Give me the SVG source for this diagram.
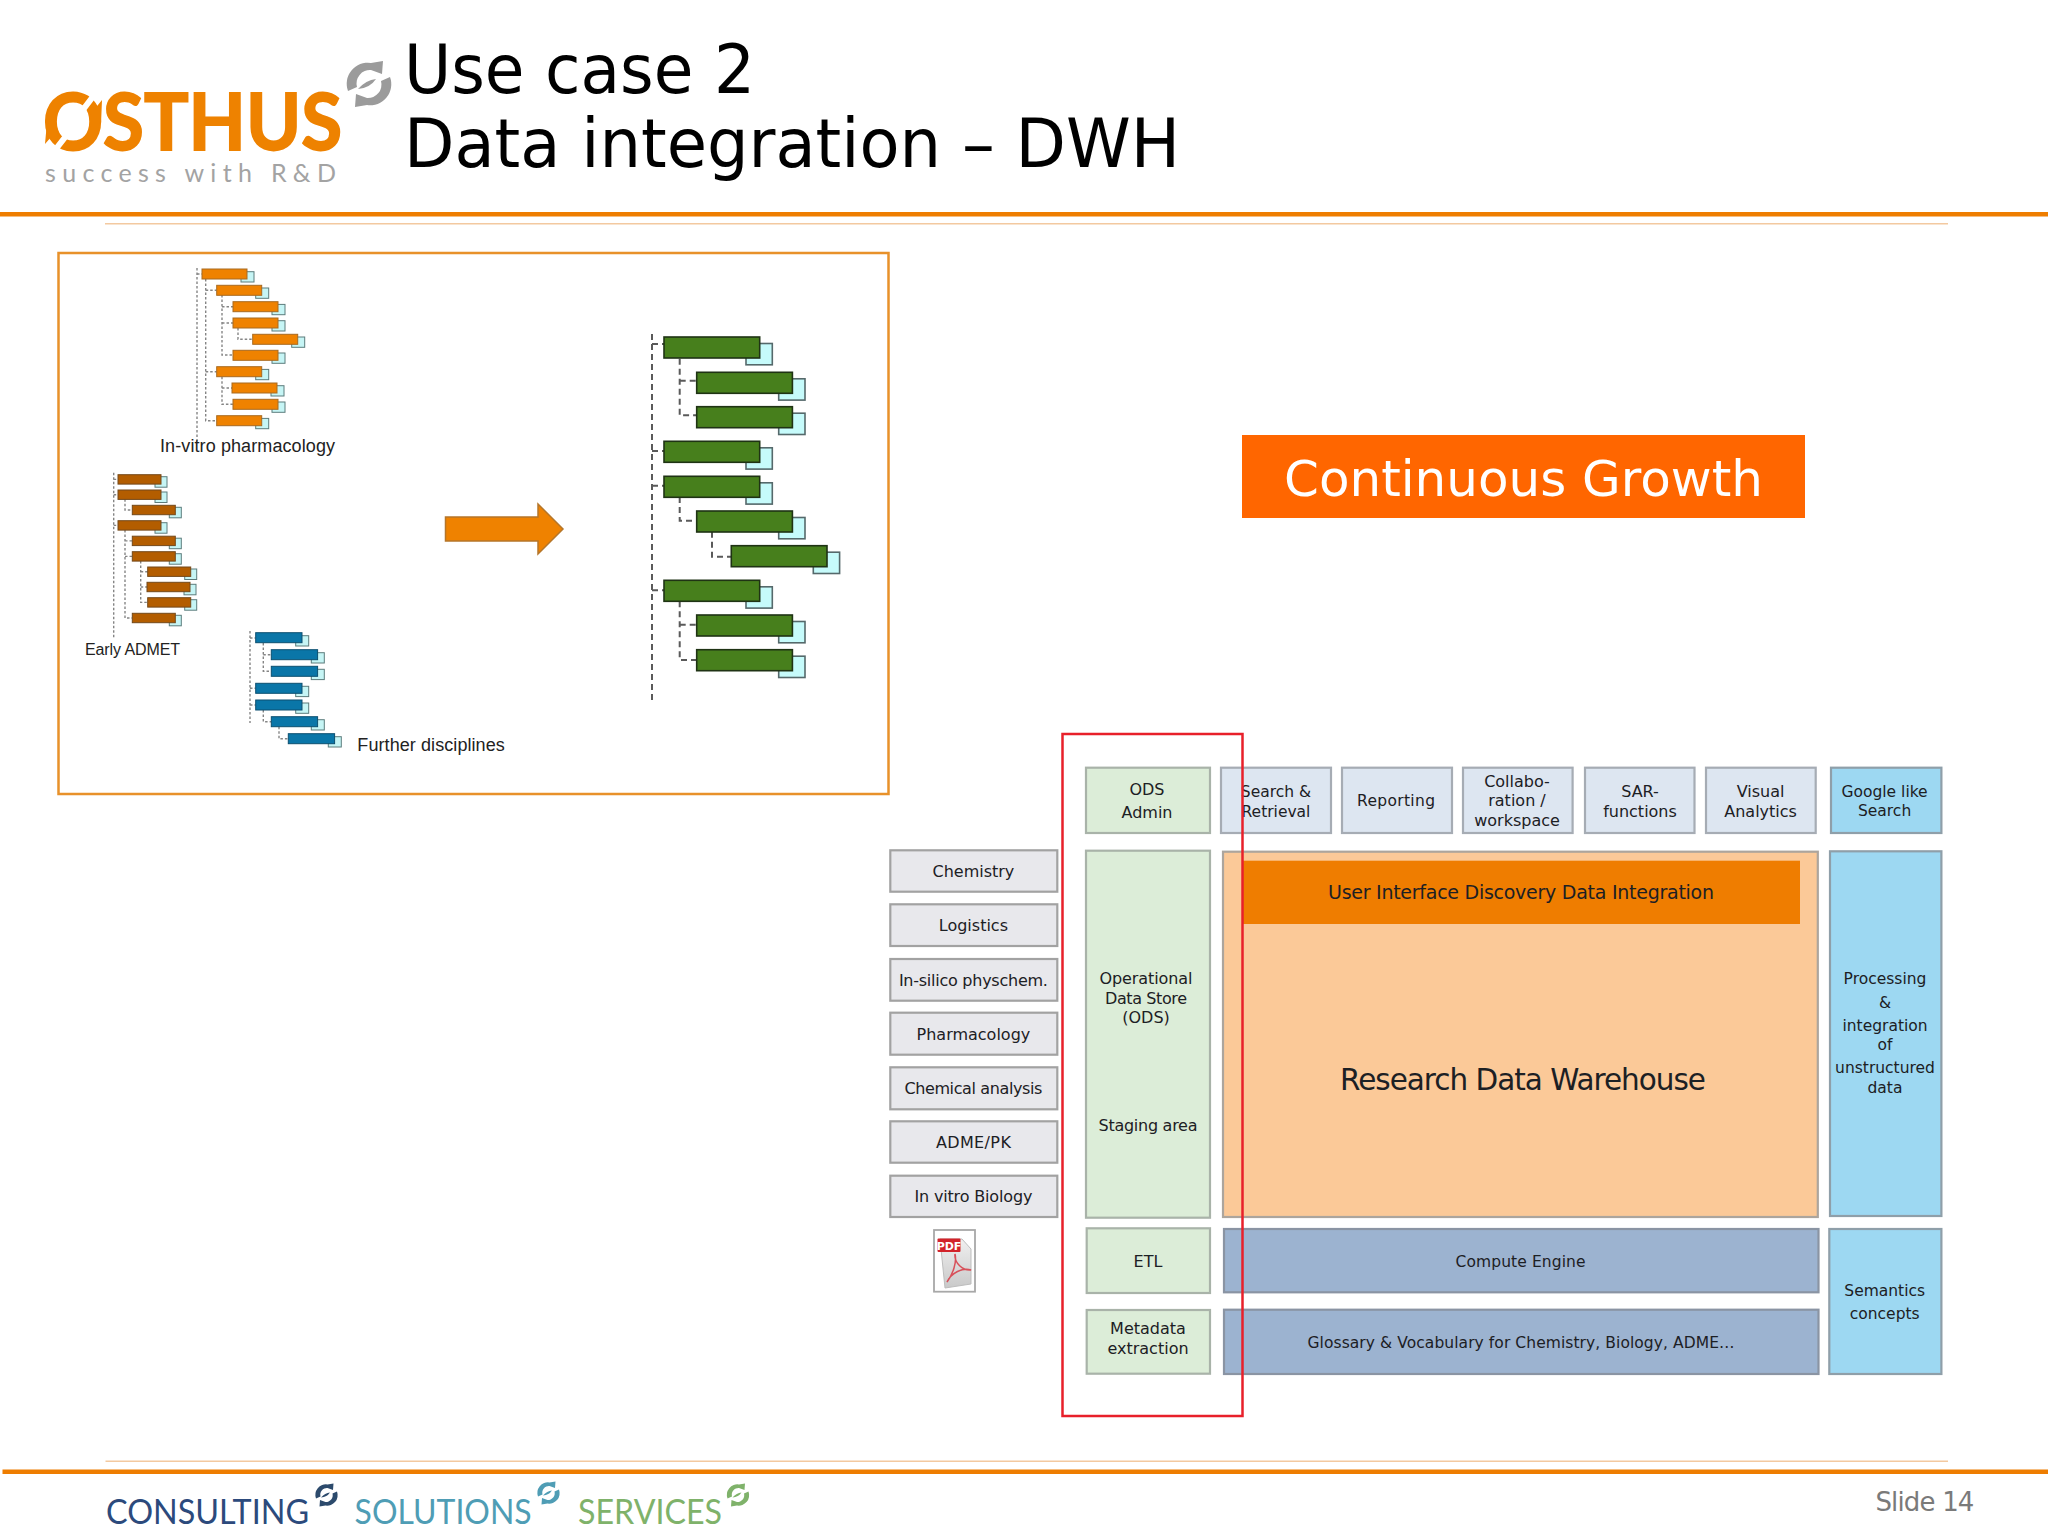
<svg xmlns="http://www.w3.org/2000/svg" xmlns:xlink="http://www.w3.org/1999/xlink" width="2048" height="1536" viewBox="0 0 2048 1536">
<style>
text{font-family:"DejaVu Sans","Liberation Sans",sans-serif;fill:#1c2024;text-anchor:middle}
.t16{font-size:16px}
.t15{font-size:15.5px}
.arial{font-family:"Liberation Sans",Arial,sans-serif;text-anchor:start;fill:#222}
.grey{fill:#e8e8ec;stroke:#a2a2a2;stroke-width:2.2}
.green{fill:#dcedd8;stroke:#a9b3a9;stroke-width:2.2}
.pale{fill:#dde6f1;stroke:#a6acb4;stroke-width:2.2}
.sky{fill:#9dd8f2;stroke:#8f9fa9;stroke-width:2.2}
.slate{fill:#9cb3d0;stroke:#8a94a3;stroke-width:2.2}
.shadow{fill:#c6f5f5;stroke:#5c7c7c;stroke-width:1}
.shadowg{fill:#c6fbfb;stroke:#55696b;stroke-width:1.6}
.ro{fill:#ef8200;stroke:#a86a20;stroke-width:1}
.rb{fill:#b35d00;stroke:#74491a;stroke-width:1}
.rc{fill:#0a76a8;stroke:#0c4f70;stroke-width:1}
.rg{fill:#477f1c;stroke:#1f3314;stroke-width:1.6}
.dot{fill:none;stroke:#858585;stroke-width:1.4;stroke-dasharray:2.5 2}
.dash{fill:none;stroke:#5a5a5a;stroke-width:2;stroke-dasharray:6 4}
</style>
<defs>
<g id="row-o"><rect class="shadow" x="39" y="2.7" width="13" height="10.3"/><rect class="ro" width="45" height="10"/></g>
<g id="row-b"><rect class="shadow" x="37" y="2" width="12" height="10.5"/><rect class="rb" width="43" height="9.4"/></g>
<g id="row-c"><rect class="shadow" x="40" y="3" width="13" height="10.3"/><rect class="rc" width="46.3" height="10"/></g>
<g id="row-g"><rect class="shadowg" x="82" y="6.5" width="26.3" height="21.3"/><rect class="rg" width="95.700" height="21"/></g>
<g id="sync">
<path d="M-21 7A21 21 0 0 1 2-21L14-23 13-10 2-14A13.500 13.500 0 0 0-12 3Z"/>
<path d="M21-7A21 21 0 0 1-2 21L-14 23-13 10-2 14A13.500 13.500 0 0 0 12-3Z"/>
<path d="M-11 5Q-3-4 7-5Q1 4-11 5Z"/>
</g>
<linearGradient id="pdfpage" x1="0" y1="0" x2="0" y2="1"><stop offset="0" stop-color="#f0f0f0"/><stop offset="1" stop-color="#c9c9c9"/></linearGradient>
</defs>
<rect width="2048" height="1536" fill="#fff"/>

<g id="header">
<g id="logo">
<text x="43" y="150" font-size="79" font-weight="700" textLength="299" lengthAdjust="spacingAndGlyphs" style="fill:#ee8200;stroke:#ee8200;stroke-width:1.800;text-anchor:start;font-family:'Lato','Liberation Sans',sans-serif">OSTHUS</text>
<path d="M52 154L66 136M82 111L98 90" stroke="#fff" stroke-width="6" fill="none"/>
<path d="M45 144L47 122 58 129ZM102 100L101 124 89 116Z" fill="#ee8200"/>
<text x="45" y="182" font-size="25" textLength="291" style="fill:#a3a3a3;text-anchor:start;font-family:'Lato','Liberation Sans',sans-serif">success with R&amp;D</text>
<use href="#sync" transform="translate(369 84)" fill="#9b9b9b"/>
</g>
<text x="404" y="93" font-size="68" textLength="351" lengthAdjust="spacingAndGlyphs" style="fill:#000;text-anchor:start">Use case 2</text>
<text x="404" y="167" font-size="68" textLength="776" lengthAdjust="spacingAndGlyphs" style="fill:#000;text-anchor:start">Data integration – DWH</text>
<rect x="0" y="212" width="2048" height="4.500" fill="#ee7d00"/>
<rect x="105" y="223" width="1843" height="1.500" fill="#f3c9a0"/>
</g>

<rect id="source-frame" x="58.500" y="253" width="830" height="541" fill="#fff" stroke="#e8912a" stroke-width="2.500"/>

<g id="connectors">
<path class="dot" d="M197 268V442M197 274H202M205.700 279V420.700H216.700M205.700 290.300H216.700M222 295V355H233M222 306.700H233M222 323H233M238 328V339.300H252.700M205.700 371.700H216.700M222 376.700V404.300H233M222 388H232"/>
<path class="dot" d="M113.700 472.700V638M113.700 479.400H118M113.700 494.700H118M113.700 525.400H118M125 499.300V510H132.300M125 530V618H132.300M125 540.900H132.300M125 556.400H132.300M140.700 561V602.400H147.700M140.700 571.700H147.700M140.700 587H147"/>
<path class="dot" d="M250 631V723M250 638H255.700M250 688.300H255.700M250 705H255.700M263.300 643V671.300H271.300M263.300 654.700H271.300M263.300 710V721.700H271.300M279 726.700V738.800H288.300"/>
<path class="dash" d="M652 334V704M652 344H664M652 451H664M652 485.700H664M652 590.300H664M679.700 358.700V415.300H696.700M679.700 380.700H696.700M679.700 497V520.700H696.700M679.700 601.300V660H696.700M679.700 624.700H696.700M712 531.700V556.700H731.300"/>
</g>

<g id="tree-invitro">
<use href="#row-o" x="202" y="269"/><use href="#row-o" x="216.700" y="285.300"/><use href="#row-o" x="233" y="301.700"/><use href="#row-o" x="233" y="318"/><use href="#row-o" x="252.700" y="334.300"/><use href="#row-o" x="233" y="350.300"/><use href="#row-o" x="216.700" y="366.700"/><use href="#row-o" x="232" y="383"/><use href="#row-o" x="233" y="399.300"/><use href="#row-o" x="216.700" y="415.700"/>
<text class="arial" x="160" y="452" font-size="18" textLength="175">In-vitro pharmacology</text>
</g>
<g id="tree-admet">
<use href="#row-b" x="118" y="474.700"/><use href="#row-b" x="118" y="490"/><use href="#row-b" x="132.300" y="505.300"/><use href="#row-b" x="118" y="520.700"/><use href="#row-b" x="132.300" y="536.200"/><use href="#row-b" x="132.300" y="551.700"/><use href="#row-b" x="147.700" y="567"/><use href="#row-b" x="147" y="582.300"/><use href="#row-b" x="147.700" y="597.700"/><use href="#row-b" x="132.300" y="613.300"/>
<text class="arial" x="85" y="655" font-size="16" textLength="95">Early ADMET</text>
</g>
<g id="tree-further">
<use href="#row-c" x="255.700" y="632.700"/><use href="#row-c" x="271.300" y="649.700"/><use href="#row-c" x="271.300" y="666.300"/><use href="#row-c" x="255.700" y="683.300"/><use href="#row-c" x="255.700" y="700"/><use href="#row-c" x="271.300" y="716.700"/><use href="#row-c" x="288.300" y="733.700"/>
<text class="arial" x="357.300" y="751" font-size="18" textLength="147.500">Further disciplines</text>
</g>
<g id="merge-arrow"><path d="M445.500 517H538V504L563 529 538 554V541H445.500Z" fill="#ef8200" stroke="#b5762a" stroke-width="1.500"/></g>
<g id="tree-merged">
<use href="#row-g" x="664" y="337"/><use href="#row-g" x="696.700" y="372.300"/><use href="#row-g" x="696.700" y="406.700"/><use href="#row-g" x="664" y="441.300"/><use href="#row-g" x="664" y="476.300"/><use href="#row-g" x="696.700" y="511"/><use href="#row-g" x="731.300" y="545.700"/><use href="#row-g" x="664" y="580.300"/><use href="#row-g" x="696.700" y="615"/><use href="#row-g" x="696.700" y="649.700"/>
</g>

<g id="continuous-growth"><rect x="1242" y="435" width="563" height="83" fill="#ff6600"/><text x="1523.500" y="496" font-size="50" textLength="479" lengthAdjust="spacingAndGlyphs" style="fill:#fff">Continuous Growth</text></g>

<g id="chemistry"><rect class="grey" x="890.300" y="850.300" width="167" height="41.400"/><text class="t16" x="973.400" y="876.700">Chemistry</text></g>
<g id="logistics"><rect class="grey" x="890.300" y="904.300" width="167" height="41.700"/><text class="t16" x="973.400" y="931">Logistics</text></g>
<g id="insilico"><rect class="grey" x="890.300" y="959" width="167" height="41.700"/><text class="t16" x="973.400" y="985.700" textLength="149">In-silico physchem.</text></g>
<g id="pharmacology"><rect class="grey" x="890.300" y="1012.700" width="167" height="42"/><text class="t16" x="973.400" y="1040">Pharmacology</text></g>
<g id="chemical-analysis"><rect class="grey" x="890.300" y="1067.300" width="167" height="42"/><text class="t16" x="973.400" y="1094.300" textLength="138">Chemical analysis</text></g>
<g id="adme-pk"><rect class="grey" x="890.300" y="1121.300" width="167" height="41.400"/><text class="t16" x="973.400" y="1148" textLength="75">ADME/PK</text></g>
<g id="invitro-biology"><rect class="grey" x="890.300" y="1175.700" width="167" height="41.300"/><text class="t16" x="973.400" y="1202.300" textLength="118">In vitro Biology</text></g>
<g id="pdf-icon">
<rect x="934" y="1230" width="41" height="61.700" fill="#fff" stroke="#a8a8a8" stroke-width="1.800"/>
<path d="M940 1239H962L971 1249V1284L945 1288Z" fill="url(#pdfpage)" stroke="#bdbdbd"/>
<rect x="937.500" y="1238.500" width="23" height="13.500" rx="1" fill="#d2232a"/>
<text x="949" y="1249.500" font-size="11" font-weight="700" style="fill:#fff">PDF</text>
<path d="M947 1282C953 1274 957 1262 955 1254C954 1263 963 1271 971 1270C963 1267 951 1273 947 1282Z" fill="none" stroke="#d8505a" stroke-width="1.500"/>
</g>

<g id="ods-admin"><rect class="green" x="1086" y="767.700" width="124" height="65.300"/><text class="t16" x="1147" y="794.700">ODS</text><text class="t16" x="1147" y="817.700">Admin</text></g>
<g id="search-retrieval"><rect class="pale" x="1221" y="767.700" width="110" height="65.300"/><text class="t15" x="1276" y="797.300">Search &amp;</text><text class="t15" x="1276" y="816.700">Retrieval</text></g>
<g id="reporting"><rect class="pale" x="1342" y="767.700" width="110" height="65.300"/><text class="t15" x="1396" y="806" textLength="78">Reporting</text></g>
<g id="collaboration"><rect class="pale" x="1463" y="767.700" width="109.600" height="65.300"/><text class="t16" x="1517" y="786.700">Collabo-</text><text class="t16" x="1517" y="806">ration /</text><text class="t16" x="1517" y="825.700">workspace</text></g>
<g id="sar-functions"><rect class="pale" x="1585" y="767.700" width="109.500" height="65.300"/><text class="t16" x="1640" y="797.300">SAR-</text><text class="t16" x="1640" y="816.700">functions</text></g>
<g id="visual-analytics"><rect class="pale" x="1706" y="767.700" width="109.700" height="65.300"/><text class="t16" x="1760.600" y="797.300">Visual</text><text class="t16" x="1760.600" y="816.700">Analytics</text></g>
<g id="google-search"><rect class="sky" x="1831" y="767.700" width="110.400" height="65.300"/><text class="t15" x="1884.600" y="796.700">Google like</text><text class="t15" x="1884.600" y="815.700">Search</text></g>

<g id="ods"><rect class="green" x="1086" y="850.700" width="124" height="367"/><text class="t16" x="1146" y="984" textLength="93">Operational</text><text class="t16" x="1146" y="1003.700" textLength="82">Data Store</text><text class="t16" x="1146" y="1022.700">(ODS)</text><text class="t16" x="1148" y="1130.700" textLength="99">Staging area</text></g>
<g id="research-dwh"><rect x="1223" y="851.700" width="594.800" height="365.300" fill="#fbc998" stroke="#aca59d" stroke-width="2.200"/><text x="1523" y="1090" font-size="29.500" textLength="366">Research Data Warehouse</text></g>
<g id="ui-banner"><rect x="1242" y="860.700" width="558" height="63.300" fill="#ef7d00"/><text x="1521" y="899" font-size="19" textLength="386">User Interface Discovery Data Integration</text></g>
<g id="processing"><rect class="sky" x="1830" y="851.300" width="111.400" height="364.700"/><text class="t15" x="1885" y="984.300">Processing</text><text class="t15" x="1885" y="1007.700">&amp;</text><text class="t15" x="1885" y="1031">integration</text><text class="t15" x="1885" y="1050.300">of</text><text class="t15" x="1885" y="1073.300">unstructured</text><text class="t15" x="1885" y="1092.700">data</text></g>
<g id="etl"><rect class="green" x="1086.700" y="1228.300" width="123.300" height="64.700"/><text class="t16" x="1148" y="1266.700">ETL</text></g>
<g id="compute-engine"><rect class="slate" x="1224" y="1229" width="594.500" height="63.300"/><text class="t15" x="1520.500" y="1266.700" textLength="130">Compute Engine</text></g>
<g id="metadata"><rect class="green" x="1086.700" y="1310" width="123.300" height="63.700"/><text class="t16" x="1148" y="1334">Metadata</text><text class="t16" x="1148" y="1353.700">extraction</text></g>
<g id="glossary"><rect class="slate" x="1224" y="1309.700" width="594.500" height="64.300"/><text class="t15" x="1521" y="1347.700" textLength="427">Glossary &amp; Vocabulary for Chemistry, Biology, ADME…</text></g>
<g id="semantics"><rect class="sky" x="1829.300" y="1229" width="112.100" height="145"/><text class="t15" x="1884.700" y="1296">Semantics</text><text class="t15" x="1884.700" y="1319.300">concepts</text></g>

<rect id="highlight" x="1062.500" y="734" width="180" height="682" fill="none" stroke="#e8202a" stroke-width="2.500"/>

<g id="footer">
<rect x="105.500" y="1460.500" width="1842.500" height="1.500" fill="#f3c9a0"/>
<rect x="2.500" y="1469.500" width="2045.500" height="4.500" fill="#ee7d00"/>
<g style="font-family:'Lato','Liberation Sans',sans-serif">
<text x="106" y="1524" font-size="35" textLength="203" lengthAdjust="spacingAndGlyphs" style="fill:#2c4a7c;text-anchor:start;font-family:inherit">CONSULTING</text>
<text x="354.600" y="1524" font-size="35" textLength="177" lengthAdjust="spacingAndGlyphs" style="fill:#4f9db5;text-anchor:start;font-family:inherit">SOLUTIONS</text>
<text x="578" y="1524" font-size="35" textLength="144" lengthAdjust="spacingAndGlyphs" style="fill:#7fb26a;text-anchor:start;font-family:inherit">SERVICES</text>
</g>
<use href="#sync" transform="translate(326.500 1495) scale(.5)" fill="#2c4a6c"/>
<use href="#sync" transform="translate(548.500 1493) scale(.5)" fill="#4f9db5"/>
<use href="#sync" transform="translate(738 1495) scale(.5)" fill="#7fb26a"/>
<text x="1875.400" y="1511" font-size="26" textLength="99" style="fill:#7a7a7a;text-anchor:start;font-family:'DejaVu Sans',sans-serif">Slide 14</text>
</g>
</svg>
